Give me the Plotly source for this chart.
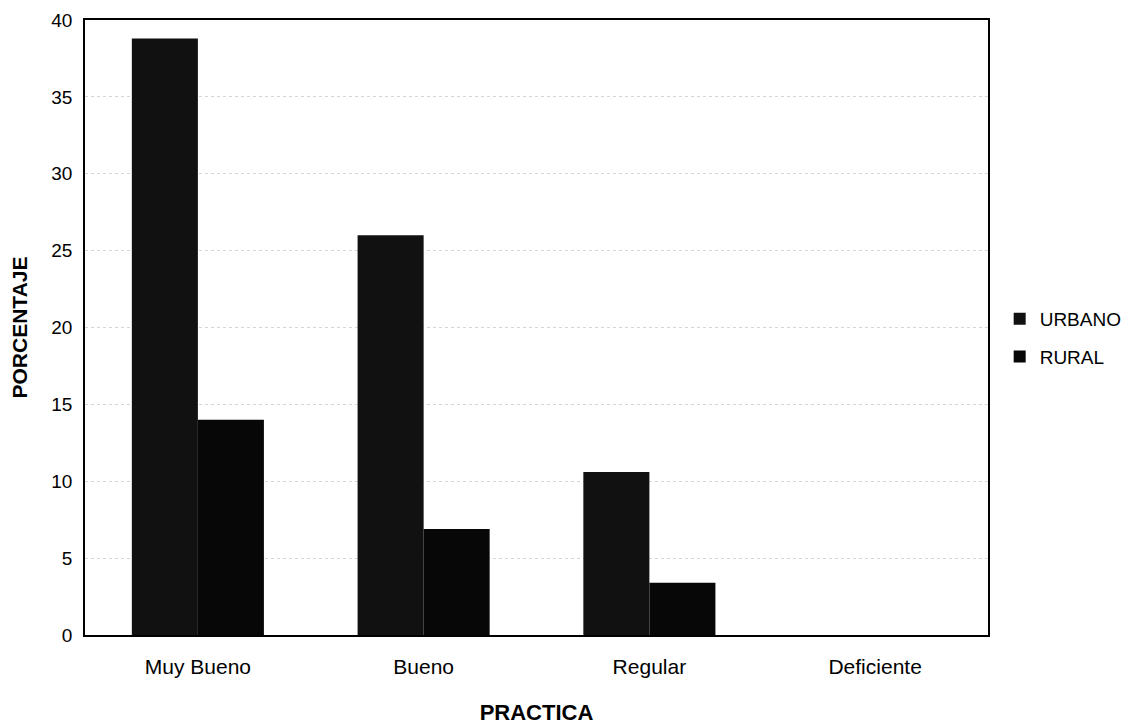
import plotly.graph_objects as go

# Practice level by area (percentage)
categorias = ["Muy Bueno", "Bueno", "Regular", "Deficiente"]
urbano = [38.8, 26.0, 10.6, 0.0]
rural = [14.0, 6.9, 3.4, 0.0]
y_ticks = [0, 5, 10, 15, 20, 25, 30, 35, 40]

FONT = "Liberation Sans, Arial, sans-serif"

fig = go.Figure()
fig.add_trace(go.Bar(
    x=categorias, y=urbano, name="URBANO", legendgroup="u",
    marker=dict(color="#111111", line=dict(width=0)),
))
fig.add_trace(go.Bar(
    x=categorias, y=rural, name="RURAL", legendgroup="r",
    marker=dict(color="#070707", line=dict(width=0)),
))

fig.update_layout(
    width=1136, height=725,
    margin=dict(l=85, r=148, t=20, b=90),
    paper_bgcolor="white", plot_bgcolor="white",
    font=dict(family=FONT, size=19, color="#000000"),
    barmode="group", bargap=0.415, bargroupgap=0.0,
    showlegend=True,
    legend=dict(
        xref="container", yref="container",
        x=0.880, y=0.534, xanchor="left", yanchor="middle",
        font=dict(family=FONT, size=19, color="#000000"),
        tracegroupgap=10, traceorder="grouped",
        bgcolor="rgba(0,0,0,0)",
    ),
    xaxis=dict(
        title=dict(text="<b>PRACTICA</b>", font=dict(size=22), standoff=30),
        showline=True, linecolor="#000000", linewidth=1.5, mirror=True,
        ticks="", ticklabelstandoff=12, automargin=False,
        tickfont=dict(size=21),
        showgrid=False,
    ),
    yaxis=dict(
        title=dict(text="<b>PORCENTAJE</b>", font=dict(size=21), standoff=18),
        range=[0, 40], tickvals=y_ticks, automargin=False,
        showline=True, linecolor="#000000", linewidth=1.5, mirror=True,
        ticks="outside", ticklen=7, tickcolor="rgba(0,0,0,0)",
        tickfont=dict(size=19),
        showgrid=True, gridcolor="#d6d6d6", griddash="dot", gridwidth=1,
        zeroline=False,
    ),
)

fig.write_html("out.html")
